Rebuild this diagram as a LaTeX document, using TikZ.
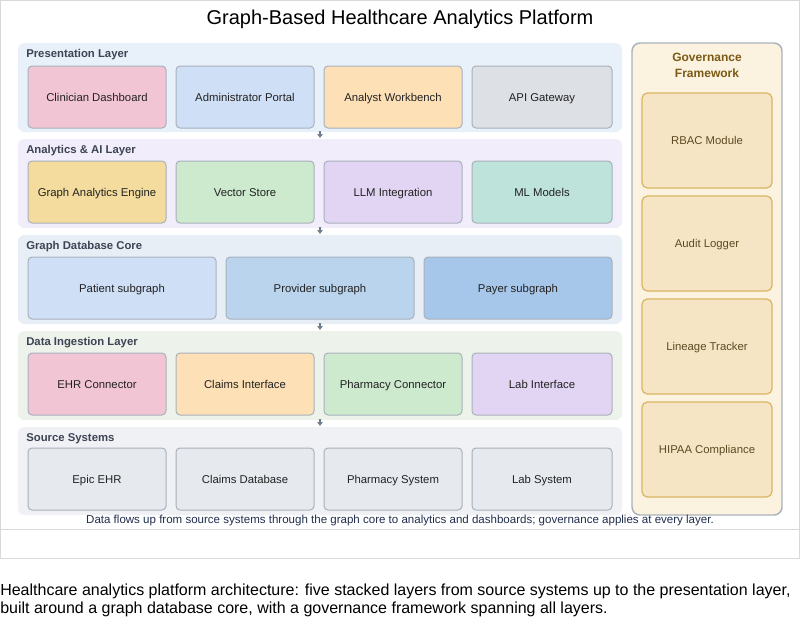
\documentclass[tikz,border=0pt]{standalone}
\usepackage{fontspec}
\setmainfont{Liberation Sans}
\usetikzlibrary{arrows.meta}
\definecolor{framec}{HTML}{D9D9D9}
\definecolor{labc}{HTML}{3D4454}
\definecolor{boxb}{HTML}{A9B1BC}
\definecolor{txt}{HTML}{222222}
\definecolor{arrc}{HTML}{6E7C8E}
\definecolor{presbg}{HTML}{E8F0FA}
\definecolor{anabg}{HTML}{F1EDFA}
\definecolor{corebg}{HTML}{E7EEF6}
\definecolor{ingbg}{HTML}{EDF3EA}
\definecolor{srcbg}{HTML}{F0F1F4}
\definecolor{cpink}{HTML}{F2C5D4}
\definecolor{cblue}{HTML}{CEDFF6}
\definecolor{cpeach}{HTML}{FDE0B5}
\definecolor{cgray}{HTML}{DDE0E5}
\definecolor{cyellow}{HTML}{F3DC9E}
\definecolor{cgreen}{HTML}{CDEACE}
\definecolor{clav}{HTML}{E2D4F3}
\definecolor{cteal}{HTML}{BEE3DA}
\definecolor{cblue2}{HTML}{BAD4EE}
\definecolor{cblue3}{HTML}{A7C7EA}
\definecolor{csrc}{HTML}{E6E9EE}
\definecolor{govbg}{HTML}{FCF2E0}
\definecolor{govb}{HTML}{AAB3BC}
\definecolor{govbox}{HTML}{F6E5C4}
\definecolor{govboxb}{HTML}{D9B562}
\definecolor{govt}{HTML}{7A5A14}
\definecolor{govtxt}{HTML}{5C4A22}
\definecolor{notec}{HTML}{1F2D4D}
\tikzset{
  box/.style={draw=boxb, line width=0.75pt, rounded corners=3pt, inner sep=0pt, outer sep=0pt,
    font=\fontsize{8.5}{10}\selectfont, text=txt, align=center, text height=7pt, text depth=1pt},
  layer/.style={draw=none, rounded corners=5pt, inner sep=0pt, outer sep=0pt},
  laylab/.style={anchor=west, inner sep=0pt, font=\fontsize{8.5}{10}\selectfont\bfseries, text=labc,
    text height=7pt, text depth=1pt},
  govpanel/.style={draw=govb, line width=1.1pt, rounded corners=6pt, fill=govbg, inner sep=0pt, outer sep=0pt},
  govitem/.style={draw=govboxb, line width=0.9pt, rounded corners=4pt, fill=govbox, inner sep=0pt, outer sep=0pt,
    font=\fontsize{8.5}{10}\selectfont, text=govtxt, text height=7pt, text depth=1pt},
  flow/.style={draw=arrc, line width=1.1pt, -{Triangle[width=4pt,length=3pt]}},
}
% name, x1, y1, x2, y2, style+fill, text
\newcommand{\bx}[7]{\node[#6, minimum width={(#4-#2)*0.75pt}, minimum height={(#5-#3)*0.75pt}] (#1) at ({(#2+#4)/2},{(#3+#5)/2}) {#7};}
\begin{document}
\begin{tikzpicture}[x=0.75pt,y=-0.75pt]
\useasboundingbox (0,0) rectangle (800,618);
\fill[white] (0,0) rectangle (800,618);
% outer frames
\draw[framec, line width=1pt] (0.5,0.5) rectangle (799.5,529.5);
\draw[framec, line width=1pt] (0.5,529.5) rectangle (799.5,558.5);
% title
\node[font=\fontsize{15}{18}\selectfont, text=black] (title) at (400,19) {Graph-Based Healthcare Analytics Platform};
% layers
\bx{pres}{18}{43}{622}{132}{layer, fill=presbg}{}
\bx{ana}{18}{139}{622}{228}{layer, fill=anabg}{}
\bx{core}{18}{235}{622}{324}{layer, fill=corebg}{}
\bx{ing}{18}{331}{622}{420}{layer, fill=ingbg}{}
\bx{src}{18}{427}{622}{515}{layer, fill=srcbg}{}
\node[laylab] (presl) at (26,53) {Presentation Layer};
\node[laylab] (anal) at (26,149) {Analytics \& AI Layer};
\node[laylab] (corel) at (26,245) {Graph Database Core};
\node[laylab] (ingl) at (26,341) {Data Ingestion Layer};
\node[laylab] (srcl) at (26,437) {Source Systems};
% presentation
\bx{p1}{28}{66}{166}{128}{box, fill=cpink}{Clinician Dashboard}
\bx{p2}{176}{66}{314}{128}{box, fill=cblue}{Administrator Portal}
\bx{p3}{324}{66}{462}{128}{box, fill=cpeach}{Analyst Workbench}
\bx{p4}{472}{66}{612}{128}{box, fill=cgray}{API Gateway}
% analytics
\bx{a1}{28}{161}{166}{223}{box, fill=cyellow}{Graph Analytics Engine}
\bx{a2}{176}{161}{314}{223}{box, fill=cgreen}{Vector Store}
\bx{a3}{324}{161}{462}{223}{box, fill=clav}{LLM Integration}
\bx{a4}{472}{161}{612}{223}{box, fill=cteal}{ML Models}
% core
\bx{c1}{28}{257}{216}{319}{box, fill=cblue}{Patient subgraph}
\bx{c2}{226}{257}{414}{319}{box, fill=cblue2}{Provider subgraph}
\bx{c3}{424}{257}{612}{319}{box, fill=cblue3}{Payer subgraph}
% ingestion
\bx{i1}{28}{353}{166}{415}{box, fill=cpink}{EHR Connector}
\bx{i2}{176}{353}{314}{415}{box, fill=cpeach}{Claims Interface}
\bx{i3}{324}{353}{462}{415}{box, fill=cgreen}{Pharmacy Connector}
\bx{i4}{472}{353}{612}{415}{box, fill=clav}{Lab Interface}
% sources
\bx{s1}{28}{448}{166}{510}{box, fill=csrc}{Epic EHR}
\bx{s2}{176}{448}{314}{510}{box, fill=csrc}{Claims Database}
\bx{s3}{324}{448}{462}{510}{box, fill=csrc}{Pharmacy System}
\bx{s4}{472}{448}{612}{510}{box, fill=csrc}{Lab System}
% arrows between layers
\coordinate (ax) at (320,0);
\draw[flow] ([yshift=0.75pt]pres.south -| ax) -- ([yshift=0.75pt]ana.north -| ax);
\draw[flow] ([yshift=0.75pt]ana.south -| ax) -- ([yshift=0.75pt]core.north -| ax);
\draw[flow] ([yshift=0.75pt]core.south -| ax) -- ([yshift=0.75pt]ing.north -| ax);
\draw[flow] ([yshift=0.75pt]ing.south -| ax) -- ([yshift=0.75pt]src.north -| ax);
% governance
\bx{gov}{632}{43}{782}{515}{govpanel}{}
\node[font=\fontsize{9}{11.5}\selectfont\bfseries, text=govt, align=center] (govl) at (707,65.5) {Governance\\Framework};
\bx{g1}{642}{93}{772}{188}{govitem}{RBAC Module}
\bx{g2}{642}{196}{772}{291}{govitem}{Audit Logger}
\bx{g3}{642}{299}{772}{394}{govitem}{Lineage Tracker}
\bx{g4}{642}{402}{772}{497}{govitem}{HIPAA Compliance}
% footnote
\node[anchor=base, inner sep=0pt, font=\fontsize{8.65}{10}\selectfont, text=notec] (note) at (400,523) {Data flows up from source systems through the graph core to analytics and dashboards; governance applies at every layer.};
% caption
\node[anchor=base west, inner sep=0pt, font=\fontsize{12}{14}\selectfont, text=black] (cap1) at (0,595) {Healthcare analytics platform architecture: five stacked layers from source systems up to the presentation layer,};
\node[anchor=base west, inner sep=0pt, font=\fontsize{12}{14}\selectfont, text=black] (cap2) at (0,613) {built around a graph database core, with a governance framework spanning all layers.};
\end{tikzpicture}
\end{document}
